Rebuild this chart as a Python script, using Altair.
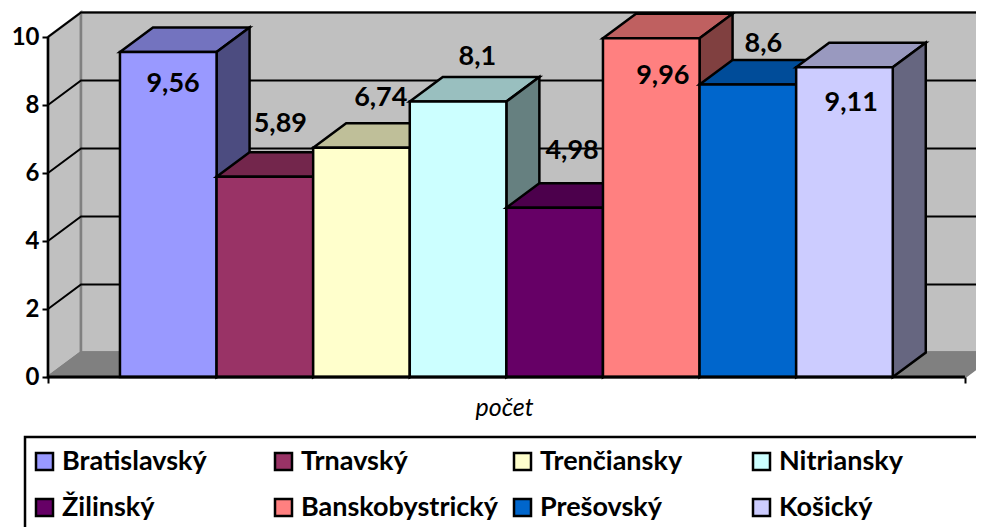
import altair as alt
import pandas as pd

regions = ["Bratislavský", "Trnavský", "Trenčiansky", "Nitriansky", "Žilinský", "Banskobystrický", "Prešovský", "Košický"]
values = [9.56, 5.89, 6.74, 8.1, 4.98, 9.96, 8.6, 9.11]
value_labels = ["9,56", "5,89", "6,74", "8,1", "4,98", "9,96", "8,6", "9,11"]
colors = ["#9999FF", "#993366", "#FFFFCC", "#CCFFFF", "#660066", "#FF8080", "#0066CC", "#CCCCFF"]
y_ticks = [0, 2, 4, 6, 8, 10]
# label nudges relative to each bar's top: in bar widths and in axis units
label_shift_x = [0.55, 0.66, 0.70, 0.70, 0.68, 0.62, 0.66, 0.57]
label_shift_y = [-0.94, 1.56, 1.47, 1.30, 1.68, -1.12, 1.20, -1.06]

DEPTH_X = 33 / 96.6
DEPTH_Y = 24.5 / 34
LEFT = -0.745
RIGHT = 8.747
TOP = 10
FONT = "Lato"


def shade(hex_color, k):
    r, g, b = (int(hex_color[i:i + 2], 16) for i in (1, 3, 5))
    return "#%02X%02X%02X" % (round(r * k), round(g * k), round(b * k))


x_scale = alt.Scale(domain=[LEFT, LEFT + 928 / 96.6], nice=False, zero=False)
y_scale = alt.Scale(domain=[0, 369 / 34], nice=False, zero=False)

# walls and floor
wall_rows = []
for key, pts, fill in [
    ("a", [(LEFT, TOP, 0), (LEFT + DEPTH_X, TOP + DEPTH_Y, DEPTH_Y)], "#C0C0C0"),
    ("b", [(LEFT + DEPTH_X, TOP + DEPTH_Y, DEPTH_Y), (RIGHT + DEPTH_X, TOP + DEPTH_Y, DEPTH_Y)], "#C0C0C0"),
    ("c", [(LEFT, 0, 0), (LEFT + DEPTH_X, DEPTH_Y, 0), (RIGHT, DEPTH_Y, 0), (RIGHT + DEPTH_X, DEPTH_Y, DEPTH_Y)], "#808080"),
]:
    for x, y, y2 in pts:
        wall_rows.append({"key": key, "x": x, "y": y, "y2": y2, "fill": fill})
walls = pd.DataFrame(wall_rows)

# gridlines on the side and back wall
grid_rows = []
for t in y_ticks[1:]:
    for x, y in [(LEFT, t), (LEFT + DEPTH_X, t + DEPTH_Y), (RIGHT + DEPTH_X, t + DEPTH_Y)]:
        grid_rows.append({"tick": t, "x": x, "y": y})
grid = pd.DataFrame(grid_rows)

# bar faces, painted left to right
face_rows = []
for i, (v, c) in enumerate(zip(values, colors)):
    x0, x1 = i, i + 1
    faces = [
        ("t", [(x0, v, v), (x0 + DEPTH_X, v + DEPTH_Y, v), (x1, v + DEPTH_Y, v), (x1 + DEPTH_X, v + DEPTH_Y, v + DEPTH_Y)], shade(c, 0.75)),
        ("s", [(x1, v, 0), (x1 + DEPTH_X, v + DEPTH_Y, DEPTH_Y)], shade(c, 0.5)),
        ("f", [(x0, v, 0), (x1, v, 0)], c),
    ]
    for j, (name, pts, fill) in enumerate(faces):
        for x, y, y2 in pts:
            face_rows.append({"face": i * 10 + j, "x": x, "y": y, "y2": y2, "fill": fill})
faces_df = pd.DataFrame(face_rows)

labels_df = pd.DataFrame({
    "x": [i + s for i, s in enumerate(label_shift_x)],
    "y": [v + s for v, s in zip(values, label_shift_y)],
    "text": value_labels,
    "region": regions,
})
legend_df = pd.DataFrame({"x": [i + 0.5 for i in range(8)], "y": values, "region": regions})
frame_df = pd.DataFrame({"x": [LEFT], "x2": [RIGHT], "y": [0]})
axis_df = pd.DataFrame({"x": [LEFT], "y": [0], "y2": [TOP]})
# frame round the legend, running off the right and bottom of the picture
legend_box_df = pd.DataFrame({"x": [-0.983], "x2": [10.0], "y": [-1.765], "y2": [-4.7]})

x_axis = alt.Axis(
    values=[LEFT, RIGHT], labels=False, domain=False, grid=False, ticks=True,
    tickSize=6, tickWidth=2, tickColor="black", zindex=1,
    title="počet", titleFont=FONT, titleFontSize=25, titleFontStyle="italic",
    titleFontWeight="normal", titleColor="black", titleX=456, titleY=30,
    titleAlign="center", titleBaseline="middle")
y_axis = alt.Axis(
    values=y_ticks, format="d", domain=False, grid=False, ticks=True,
    tickSize=6, tickWidth=2, tickColor="black", zindex=1, title=None,
    labelFont=FONT, labelFontSize=24, labelFontWeight="bold", labelColor="black",
    labelPadding=3)
x_enc = alt.X("x:Q", scale=x_scale, axis=x_axis)
y_enc = alt.Y("y:Q", scale=y_scale, axis=y_axis)

wall_layer = alt.Chart(walls).mark_area(stroke="#808080", strokeWidth=2.5).encode(
    x=x_enc, y=y_enc, y2="y2:Q",
    fill=alt.Fill("fill:N", scale=None),
    detail="key:N",
)

grid_layer = alt.Chart(grid).mark_line(color="black", strokeWidth=2).encode(
    x=x_enc, y=y_enc, detail="tick:N"
)

face_layer = alt.Chart(faces_df).mark_area(stroke="black", strokeWidth=2.5).encode(
    x=x_enc, y=y_enc, y2="y2:Q",
    fill=alt.Fill("fill:N", scale=None),
    detail="face:Q",
)

axis_layer = alt.Chart(axis_df).mark_rule(color="black", strokeWidth=2.5).encode(
    x=x_enc, y=y_enc, y2="y2:Q"
)
base_layer = alt.Chart(frame_df).mark_rule(color="black", strokeWidth=3).encode(
    x=x_enc, x2="x2:Q", y=y_enc
)

text_layer = alt.Chart(labels_df).mark_text(
    font=FONT, fontSize=27, fontWeight="bold", color="black", align="center", baseline="middle"
).encode(x=x_enc, y=y_enc, text="text:N")

box_layer = alt.Chart(legend_box_df).mark_rect(
    stroke="black", strokeWidth=2.5, fillOpacity=0
).encode(x=x_enc, x2="x2:Q", y=y_enc, y2="y2:Q")

legend_layer = alt.Chart(legend_df).mark_point(filled=True, size=0, shape="square").encode(
    x=x_enc, y=y_enc,
    color=alt.Color("region:N", scale=alt.Scale(domain=regions, range=colors), legend=alt.Legend(
        title=None, orient="none", legendX=-17, legendY=440,
        columns=4, gridAlign="all", direction="horizontal",
        symbolType="square", symbolSize=289, symbolStrokeColor="black", symbolStrokeWidth=2.5,
        symbolOpacity=1, labelFont=FONT, labelFontSize=27, labelFontWeight="bold",
        labelColor="black", labelOffset=4, labelLimit=300, columnPadding=10, rowPadding=18,
        padding=0, values=regions)),
)

chart = alt.layer(
    wall_layer, grid_layer, face_layer, axis_layer, base_layer, text_layer, box_layer, legend_layer
).properties(
    width=928, height=369,
    padding={"left": 40, "top": 0, "right": 0, "bottom": 150},
    autosize=alt.AutoSizeParams(type="none"),
    background="white",
).configure_view(stroke=None)

chart.save("out.html", embed_options={"renderer": "svg", "actions": False})
